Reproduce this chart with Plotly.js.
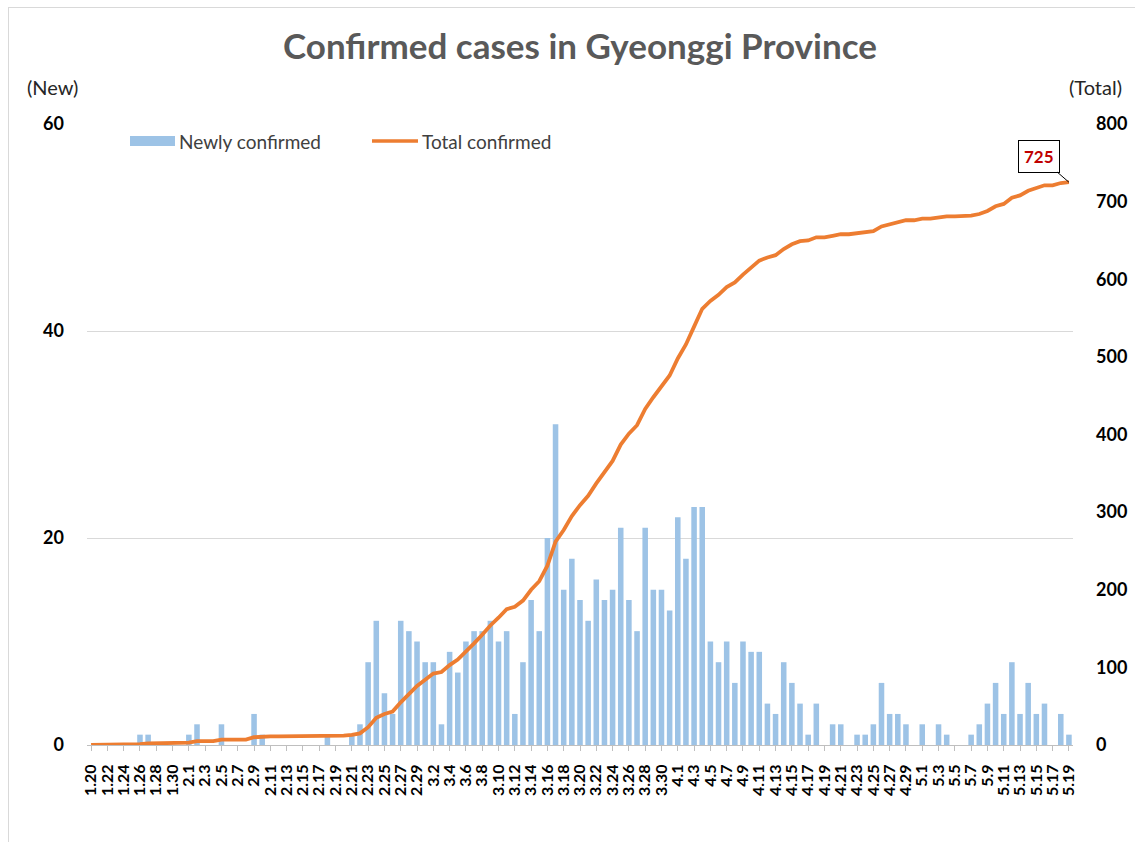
<!DOCTYPE html>
<html>
<head>
<meta charset="utf-8">
<script src="https://cdn.plot.ly/plotly-3.0.1.min.js"></script>
<style>
  html, body { margin: 0; padding: 0; background: #fff; }
  #chart { position: absolute; left: 0; top: 0; width: 1135px; height: 842px; }
  #frame { position: absolute; left: 8px; top: 7px; width: 1130px; height: 840px; border: 1px solid #d9d9d9; pointer-events: none; }
</style>
</head>
<body>
<div id="chart"></div>
<div id="frame"></div>
<script>
const dates = [
  "1.20","1.21","1.22","1.23","1.24","1.25","1.26","1.27","1.28","1.29","1.30","1.31",
  "2.1","2.2","2.3","2.4","2.5","2.6","2.7","2.8","2.9","2.10","2.11","2.12","2.13","2.14","2.15","2.16","2.17","2.18","2.19","2.20","2.21","2.22","2.23","2.24","2.25","2.26","2.27","2.28","2.29",
  "3.1","3.2","3.3","3.4","3.5","3.6","3.7","3.8","3.9","3.10","3.11","3.12","3.13","3.14","3.15","3.16","3.17","3.18","3.19","3.20","3.21","3.22","3.23","3.24","3.25","3.26","3.27","3.28","3.29","3.30","3.31",
  "4.1","4.2","4.3","4.4","4.5","4.6","4.7","4.8","4.9","4.10","4.11","4.12","4.13","4.14","4.15","4.16","4.17","4.18","4.19","4.20","4.21","4.22","4.23","4.24","4.25","4.26","4.27","4.28","4.29","4.30",
  "5.1","5.2","5.3","5.4","5.5","5.6","5.7","5.8","5.9","5.10","5.11","5.12","5.13","5.14","5.15","5.16","5.17","5.18","5.19"
];

const newCases = [
  0,0,0,0,0,0,1,1,0,0,0,0,
  1,2,0,0,2,0,0,0,3,1,0,0,0,0,0,0,0,1,0,0,1,2,8,12,5,3,12,11,10,
  8,8,2,9,7,10,11,11,12,10,11,3,8,14,11,20,31,15,18,14,12,16,14,15,21,14,11,21,15,15,13,
  22,18,23,23,10,8,10,6,10,9,9,4,3,8,6,4,1,4,0,2,2,0,1,1,2,6,3,3,2,0,
  2,0,2,1,0,0,1,2,4,6,3,8,3,6,3,4,0,3,1
];

const totalCases = [
  0,0,0,0,0,0,1,2,2,2,2,2,
  3,5,5,5,7,7,7,7,10,11,11,11,11,11,11,11,11,12,12,12,13,15,23,35,40,43,55,66,76,
  84,92,94,103,110,120,131,142,154,164,175,178,186,200,211,231,262,277,295,309,321,337,351,366,387,401,412,433,448,463,476,
  498,516,539,562,572,580,590,596,606,615,624,628,631,639,645,649,650,654,654,656,658,658,659,660,662,668,671,674,676,676,
  678,678,680,681,681,681,682,684,688,694,697,705,708,714,717,721,721,724,725
];

const xTickLabels = [
  "1.20","1.22","1.24","1.26","1.28","1.30","2.1","2.3","2.5","2.7","2.9","2.11","2.13","2.15","2.17","2.19","2.21","2.23","2.25","2.27","2.29",
  "3.2","3.4","3.6","3.8","3.10","3.12","3.14","3.16","3.18","3.20","3.22","3.24","3.26","3.28","3.30",
  "4.1","4.3","4.5","4.7","4.9","4.11","4.13","4.15","4.17","4.19","4.21","4.23","4.25","4.27","4.29",
  "5.1","5.3","5.5","5.7","5.9","5.11","5.13","5.15","5.17","5.19"
];

const leftTicks = [0, 20, 40, 60];
const rightTicks = [0, 100, 200, 300, 400, 500, 600, 700, 800];

const seriesNames = ["Newly confirmed", "Total confirmed"];
const lastIndex = dates.length - 1;
const lastTotal = totalCases[totalCases.length - 1];

const FONT = "Lato, 'Open Sans', sans-serif";

const traces = [
  {
    type: "bar",
    name: seriesNames[0],
    x: dates,
    y: newCases,
    marker: { color: "#9DC3E6" },
    yaxis: "y",
    hoverinfo: "x+y"
  },
  {
    type: "scatter",
    mode: "lines",
    name: seriesNames[1],
    x: dates,
    y: totalCases,
    line: { color: "#ED7D31", width: 3.8 },
    yaxis: "y2",
    hoverinfo: "x+y"
  }
];

// pixel helpers for paper coords (plot area: x 87..1073, y 124..745)
const L = 87, R = 1073, T = 124, B = 745;
const px = v => (v - L) / (R - L);
const py = v => (B - v) / (B - T);

const layout = {
  width: 1135,
  height: 842,
  margin: { l: L, r: 1135 - R, t: T, b: 842 - B },
  paper_bgcolor: "#ffffff",
  plot_bgcolor: "#ffffff",
  showlegend: false,
  bargap: 0.32,
  font: { family: FONT, color: "#000" },
  title: {
    text: "<b>Confirmed cases in Gyeonggi Province</b>",
    font: { family: FONT, size: 35, color: "#595959" },
    x: 0.5, xref: "paper", xanchor: "center",
    y: 1 - 47 / 842, yref: "container", yanchor: "middle"
  },
  xaxis: {
    type: "category",
    range: [-0.5, dates.length - 0.5],
    tickmode: "array",
    tickvals: xTickLabels,
    ticktext: xTickLabels,
    tickangle: -90,
    tickfont: { family: FONT, size: 16, color: "#000", weight: "bold" },
    showgrid: false,
    showline: true,
    linecolor: "#bfbfbf",
    linewidth: 1,
    ticks: "outside",
    ticklen: 5,
    tickcolor: "#bfbfbf",
    ticklabelstandoff: 7,
    fixedrange: true
  },
  yaxis: {
    range: [0, 60],
    tickmode: "array",
    tickvals: leftTicks,
    ticktext: leftTicks.map(String),
    tickfont: { family: FONT, size: 18, color: "#000", weight: "bold" },
    showgrid: true,
    gridcolor: "#d9d9d9",
    gridwidth: 1,
    zeroline: false,
    showline: false,
    ticks: "",
    ticklabelstandoff: 22,
    fixedrange: true
  },
  yaxis2: {
    range: [0, 800],
    overlaying: "y",
    side: "right",
    tickmode: "array",
    tickvals: rightTicks,
    ticktext: rightTicks.map(String),
    tickfont: { family: FONT, size: 18, color: "#000", weight: "bold" },
    showgrid: false,
    zeroline: false,
    showline: false,
    ticks: "",
    ticklabelstandoff: 22,
    fixedrange: true
  },
  shapes: [
    { type: "rect", xref: "paper", yref: "paper",
      x0: px(130), x1: px(175), y0: py(146), y1: py(136),
      fillcolor: "#9DC3E6", line: { width: 0 } },
    { type: "line", xref: "paper", yref: "paper",
      x0: px(372), x1: px(418), y0: py(141), y1: py(141),
      line: { color: "#ED7D31", width: 3.5 } }
  ],
  annotations: [
    { xref: "paper", yref: "paper", x: px(177), y: py(141), xanchor: "left", yanchor: "middle",
      text: seriesNames[0], showarrow: false,
      font: { family: FONT, size: 19, color: "#404040" } },
    { xref: "paper", yref: "paper", x: px(420), y: py(141), xanchor: "left", yanchor: "middle",
      text: seriesNames[1], showarrow: false,
      font: { family: FONT, size: 19, color: "#404040" } },
    { xref: "paper", yref: "paper", x: px(52), y: py(87), xanchor: "center", yanchor: "middle",
      text: "(New)", showarrow: false,
      font: { family: FONT, size: 20, color: "#262626" } },
    { xref: "paper", yref: "paper", x: px(1095), y: py(87), xanchor: "center", yanchor: "middle",
      text: "(Total)", showarrow: false,
      font: { family: FONT, size: 20, color: "#262626" } },
    { x: lastIndex, y: lastTotal, xref: "x", yref: "y2",
      text: "<b>" + lastTotal + "</b>",
      showarrow: true, arrowhead: 0, arrowwidth: 1, arrowcolor: "#000",
      ax: -30, ay: -26,
      bgcolor: "#ffffff", bordercolor: "#000", borderwidth: 1, borderpad: 5,
      font: { family: FONT, size: 17, color: "#C00000" } }
  ]
};

Plotly.newPlot("chart", traces, layout, { displayModeBar: false, staticPlot: true });
</script>
</body>
</html>
